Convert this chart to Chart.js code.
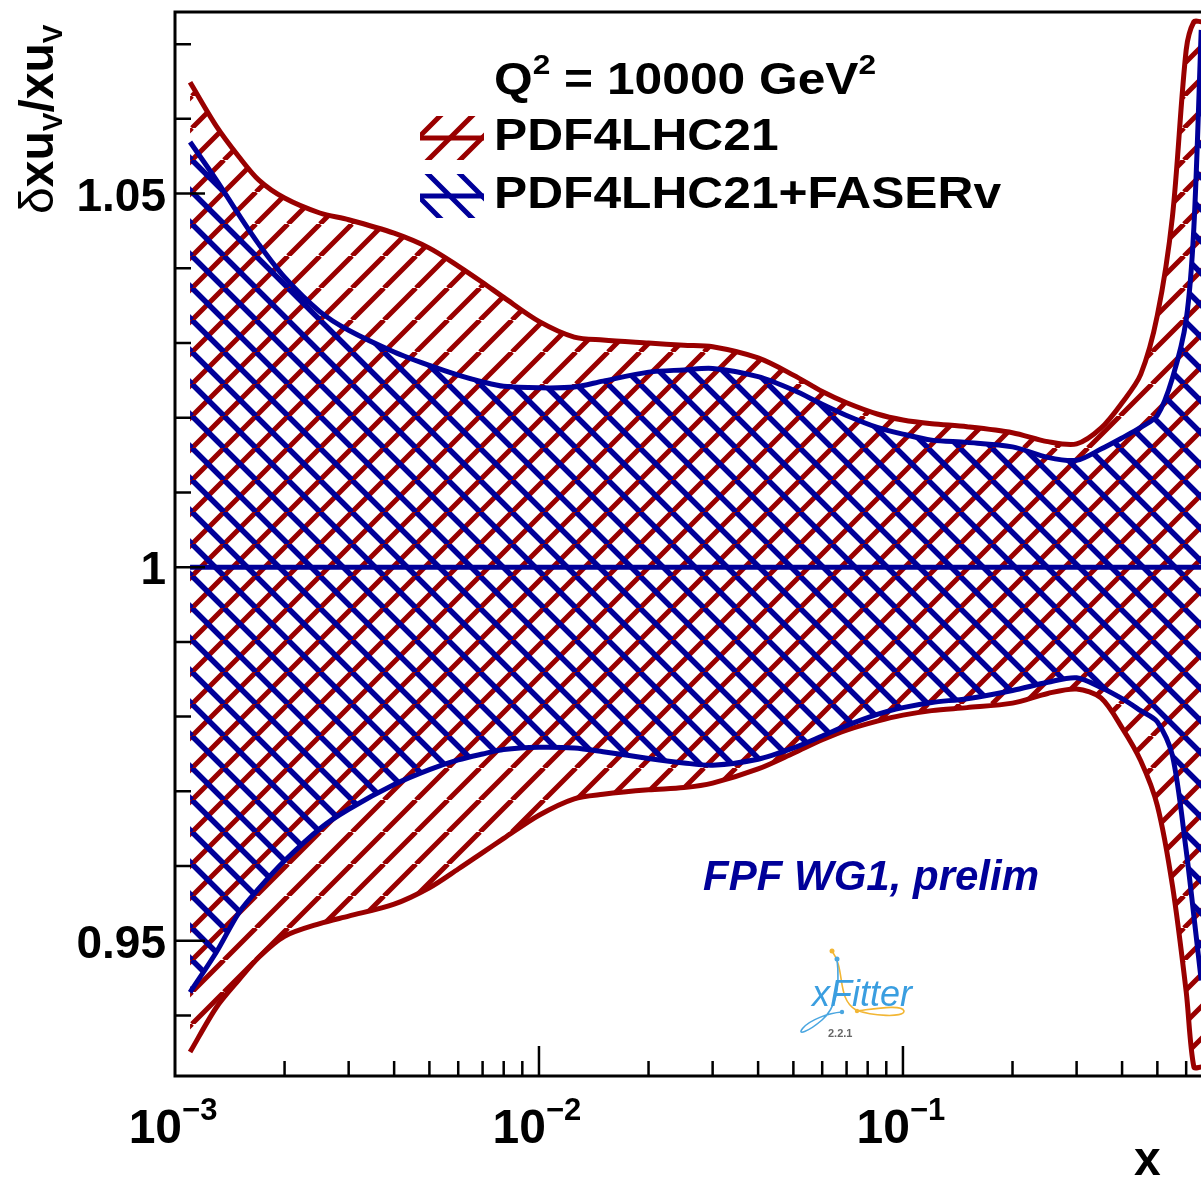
<!DOCTYPE html>
<html>
<head>
<meta charset="utf-8">
<script src="https://cdn.jsdelivr.net/npm/chart.js@4.4.1/dist/chart.umd.min.js"></script>
<style>
  html, body { margin: 0; padding: 0; background: #fff; }
  #wrap { width: 1201px; height: 1179px; }
</style>
</head>
<body>
<div id="wrap"><canvas id="chart" width="1201" height="1179"></canvas></div>
<script>
const xValues = [0.0011, 0.0013, 0.0015, 0.0017, 0.002, 0.0025, 0.003, 0.004, 0.005, 0.006, 0.007, 0.008,
  0.01, 0.0125, 0.015, 0.02, 0.025, 0.03, 0.04, 0.05, 0.06, 0.07, 0.085,
  0.1, 0.12, 0.15, 0.2, 0.25, 0.3, 0.35, 0.4, 0.45, 0.5, 0.55, 0.6, 0.63, 0.66];

// PDF4LHC21 band
const pdfUpper = [1.0649, 1.0590, 1.0549, 1.0518, 1.0494, 1.0474, 1.0465, 1.0447, 1.0427, 1.0403, 1.0381, 1.0361,
  1.0329, 1.0308, 1.0304, 1.0300, 1.0297, 1.0295, 1.0280, 1.0257, 1.0235, 1.0220, 1.0205,
  1.0197, 1.0192, 1.0188, 1.0180, 1.0168, 1.0165, 1.0186, 1.0220, 1.0258, 1.0337, 1.0469, 1.0692, 1.0730, 1.0730];
const pdfLower = [0.9351, 0.9411, 0.9448, 0.9478, 0.9506, 0.9523, 0.9533, 0.9549, 0.9571, 0.9596, 0.9618, 0.9637,
  0.9668, 0.9690, 0.9696, 0.9702, 0.9705, 0.9711, 0.9730, 0.9751, 0.9769, 0.9782, 0.9794,
  0.9802, 0.9808, 0.9812, 0.9818, 0.9831, 0.9837, 0.9825, 0.9785, 0.9741, 0.9681, 0.9574, 0.9432, 0.9331, 0.9331];

// PDF4LHC21+FASERv band
const faserUpper = [1.0569, 1.0518, 1.0471, 1.0432, 1.0388, 1.0342, 1.0317, 1.0288, 1.0270, 1.0257, 1.0248, 1.0242,
  1.0240, 1.0241, 1.0249, 1.0261, 1.0264, 1.0266, 1.0255, 1.0237, 1.0218, 1.0203, 1.0187,
  1.0178, 1.0170, 1.0167, 1.0161, 1.0147, 1.0143, 1.0158, 1.0173, 1.0187, 1.0203, 1.0253, 1.0331, 1.0455, 1.0719];
const faserLower = [0.9431, 0.9485, 0.9538, 0.9570, 0.9607, 0.9650, 0.9676, 0.9709, 0.9729, 0.9742, 0.9750, 0.9756,
  0.9759, 0.9758, 0.9753, 0.9744, 0.9738, 0.9735, 0.9743, 0.9758, 0.9774, 0.9788, 0.9803,
  0.9812, 0.9819, 0.9824, 0.9835, 0.9846, 0.9852, 0.9839, 0.9824, 0.9808, 0.9793, 0.9748, 0.9621, 0.9533, 0.9447];

// central value line
const centralX = [0.0011, 0.66];
const centralY = [1, 1];

// axis ticks and labels
const xMajorTicks = [0.001, 0.01, 0.1];
const xTickExponents = ["\u22123", "\u22122", "\u22121"];
const yMajorTicks = [0.95, 1, 1.05];
const yTickLabels = ["0.95", "1", "1.05"];
const yMinorTicks = [0.94, 0.96, 0.97, 0.98, 0.99, 1.01, 1.02, 1.03, 1.04, 1.06, 1.07];

const RED = "#990000";
const BLUE = "#000099";
const FONT = '"Liberation Sans", Arial, sans-serif';

const canvas = document.getElementById("chart");
const ctx2d = canvas.getContext("2d");

function makeHatch(color, dir, size, width) {
  const tile = document.createElement("canvas");
  tile.width = size;
  tile.height = size;
  const g = tile.getContext("2d");
  g.strokeStyle = color;
  g.lineWidth = width;
  g.beginPath();
  for (let k = -1; k <= 1; k++) {
    if (dir > 0) { g.moveTo(k * size, size); g.lineTo(k * size + size, 0); }
    else { g.moveTo(k * size, 0); g.lineTo(k * size + size, size); }
  }
  g.stroke();
  return ctx2d.createPattern(tile, "repeat");
}

const redHatch = makeHatch(RED, 1, 32, 5);
const blueHatch = makeHatch(BLUE, -1, 32, 5.5);

function pts(xs, ys) {
  return xs.map((x, i) => ({ x: x, y: ys[i] }));
}

// draws a run of text pieces: [text, font, dy]
function drawRun(ctx, parts, x, y, sx) {
  ctx.save();
  ctx.translate(x, y);
  ctx.scale(sx || 1, 1);
  let cx = 0;
  parts.forEach(p => {
    ctx.font = p[1];
    ctx.fillText(p[0], cx, p[2] || 0);
    cx += ctx.measureText(p[0]).width;
  });
  ctx.restore();
}

function runWidth(ctx, parts) {
  let w = 0;
  parts.forEach(p => { ctx.font = p[1]; w += ctx.measureText(p[0]).width; });
  return w;
}

function legendBox(ctx, color, dir, x0, y0, w, h) {
  ctx.save();
  ctx.beginPath();
  ctx.rect(x0, y0, w, h);
  ctx.clip();
  ctx.strokeStyle = color;
  ctx.lineWidth = 5;
  ctx.beginPath();
  for (let k = -3; k <= 4; k++) {
    const bx = x0 + k * 32;
    if (dir > 0) { ctx.moveTo(bx, y0 + h + 8); ctx.lineTo(bx + h + 16, y0 - 8); }
    else { ctx.moveTo(bx, y0 - 8); ctx.lineTo(bx + h + 16, y0 + h + 8); }
  }
  ctx.stroke();
  ctx.restore();
  ctx.save();
  ctx.strokeStyle = color;
  ctx.lineWidth = 5;
  ctx.beginPath();
  ctx.moveTo(x0, y0 + h / 2);
  ctx.lineTo(x0 + w, y0 + h / 2);
  ctx.stroke();
  ctx.restore();
}

function drawLogo(ctx) {
  ctx.save();
  ctx.lineWidth = 1.6;
  ctx.strokeStyle = "#f2b634";
  ctx.beginPath();
  ctx.moveTo(832, 951);
  ctx.bezierCurveTo(846, 970, 836, 998, 856, 1010);
  ctx.bezierCurveTo(872, 1016, 904, 1018, 904, 1011);
  ctx.bezierCurveTo(902, 1004, 874, 1009, 856, 1011);
  ctx.stroke();
  ctx.strokeStyle = "#4aa6e0";
  ctx.beginPath();
  ctx.moveTo(837, 959);
  ctx.bezierCurveTo(840, 985, 836, 1008, 822, 1020);
  ctx.bezierCurveTo(808, 1032, 796, 1036, 803, 1028);
  ctx.bezierCurveTo(810, 1020, 828, 1013, 842, 1012);
  ctx.stroke();
  ctx.fillStyle = "#f2b634";
  ctx.beginPath(); ctx.arc(832, 951, 2.5, 0, Math.PI * 2); ctx.fill();
  ctx.beginPath(); ctx.arc(857, 1011, 2.2, 0, Math.PI * 2); ctx.fill();
  ctx.fillStyle = "#4aa6e0";
  ctx.beginPath(); ctx.arc(837, 959, 2.5, 0, Math.PI * 2); ctx.fill();
  ctx.beginPath(); ctx.arc(842, 1012, 2.2, 0, Math.PI * 2); ctx.fill();
  ctx.fillStyle = "#3a9ee0";
  ctx.font = "italic 36px " + FONT;
  ctx.fillText("xFitter", 812, 1006);
  ctx.fillStyle = "#666666";
  ctx.font = "bold 11px " + FONT;
  ctx.fillText("2.2.1", 828, 1037);
  ctx.restore();
}

const frame = {
  id: "frame",
  afterDraw(chart) {
    const ctx = chart.ctx;
    const a = chart.chartArea;
    const xs = chart.scales.x;
    const ys = chart.scales.y;
    ctx.save();
    ctx.strokeStyle = "#000";
    ctx.lineWidth = 3;
    ctx.beginPath();
    ctx.moveTo(a.right + 2, a.top);
    ctx.lineTo(a.left, a.top);
    ctx.lineTo(a.left, a.bottom);
    ctx.lineTo(a.right + 2, a.bottom);
    ctx.stroke();

    // x ticks
    ctx.lineWidth = 2.5;
    ctx.beginPath();
    xMajorTicks.forEach(v => {
      for (let m = 1; m <= 9; m++) {
        const px = xs.getPixelForValue(v * m);
        if (px <= a.left + 1 || px > a.right) continue;
        const len = m === 1 ? 30 : 15;
        ctx.moveTo(px, a.bottom);
        ctx.lineTo(px, a.bottom - len);
      }
    });
    ctx.stroke();

    // y ticks
    ctx.beginPath();
    yMajorTicks.forEach(v => {
      const py = ys.getPixelForValue(v);
      ctx.moveTo(a.left, py);
      ctx.lineTo(a.left + 30, py);
    });
    yMinorTicks.forEach(v => {
      const py = ys.getPixelForValue(v);
      ctx.moveTo(a.left, py);
      ctx.lineTo(a.left + 16, py);
    });
    ctx.stroke();

    ctx.fillStyle = "#000";
    ctx.textBaseline = "alphabetic";
    // y labels
    ctx.font = "bold 46px " + FONT;
    ctx.textAlign = "right";
    yMajorTicks.forEach((v, i) => {
      ctx.fillText(yTickLabels[i], a.left - 9, ys.getPixelForValue(v) + 17);
    });
    ctx.textAlign = "left";
    // x labels
    xMajorTicks.forEach((v, i) => {
      const parts = [["10", "bold 48px " + FONT, 0], [xTickExponents[i], "bold 31px " + FONT, -23]];
      const w = runWidth(ctx, parts);
      drawRun(ctx, parts, xs.getPixelForValue(v) - w / 2 - 2, 1143);
    });
    // x title
    ctx.font = "bold 48px " + FONT;
    ctx.fillText("x", 1134, 1175);

    // y title
    ctx.save();
    ctx.translate(53, 214);
    ctx.rotate(-Math.PI / 2);
    drawRun(ctx, [
      ["\u03b4", "48px " + FONT, 0],
      ["xu", "bold 48px " + FONT, 0],
      ["V", "bold 28px " + FONT, 9],
      ["/xu", "bold 48px " + FONT, 0],
      ["V", "bold 28px " + FONT, 9]
    ], 0, 0);
    ctx.restore();

    // legend
    drawRun(ctx, [
      ["Q", "bold 44px " + FONT, 0],
      ["2", "bold 28px " + FONT, -20],
      [" = 10000 GeV", "bold 44px " + FONT, 0],
      ["2", "bold 28px " + FONT, -20]
    ], 494, 94, 1.13);
    drawRun(ctx, [["PDF4LHC21", "bold 44px " + FONT, 0]], 494, 150, 1.13);
    drawRun(ctx, [["PDF4LHC21+FASERv", "bold 44px " + FONT, 0]], 494, 208, 1.13);
    legendBox(ctx, RED, 1, 420, 116, 64, 44);
    legendBox(ctx, BLUE, -1, 420, 174, 64, 44);

    // annotation
    ctx.fillStyle = "#000099";
    ctx.font = "italic bold 42px " + FONT;
    ctx.fillText("FPF WG1, prelim", 703, 890);

    drawLogo(ctx);
    ctx.restore();
  }
};

const lineBase = {
  borderWidth: 5,
  pointRadius: 0,
  tension: 0.3,
  clip: 0
};

new Chart(canvas, {
  type: "line",
  data: {
    datasets: [
      Object.assign({}, lineBase, { label: "central", data: pts(centralX, centralY), borderColor: BLUE, fill: false }),
      Object.assign({}, lineBase, { label: "PDF4LHC21+FASERv", data: pts(xValues, faserUpper), borderColor: BLUE, backgroundColor: blueHatch, fill: "+1" }),
      Object.assign({}, lineBase, { label: "PDF4LHC21+FASERv low", data: pts(xValues, faserLower), borderColor: BLUE, fill: false }),
      Object.assign({}, lineBase, { label: "PDF4LHC21", data: pts(xValues, pdfUpper), borderColor: RED, backgroundColor: redHatch, fill: "+1" }),
      Object.assign({}, lineBase, { label: "PDF4LHC21 low", data: pts(xValues, pdfLower), borderColor: RED, fill: false })
    ]
  },
  options: {
    responsive: false,
    animation: false,
    events: [],
    layout: { padding: { left: 175, top: 12, right: 0, bottom: 103 } },
    scales: {
      x: { type: "logarithmic", min: 0.001, max: 0.659, display: false },
      y: { type: "linear", min: 0.9319, max: 1.0743, display: false }
    },
    plugins: {
      legend: { display: false },
      tooltip: { enabled: false }
    }
  },
  plugins: [frame]
});
</script>
</body>
</html>
